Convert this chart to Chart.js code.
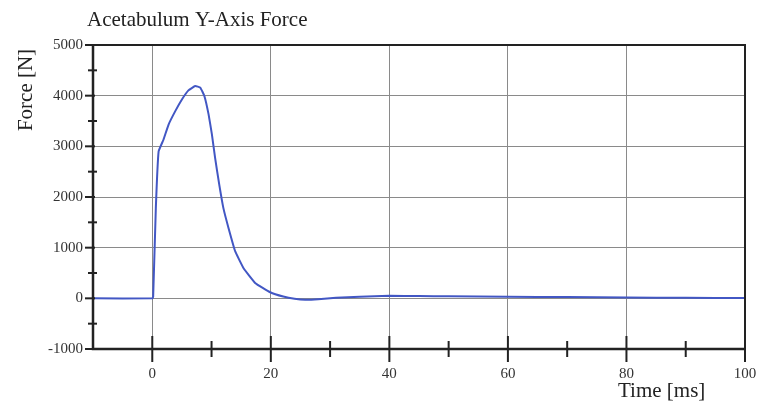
<!DOCTYPE html>
<html>
<head>
<meta charset="utf-8">
<title>Acetabulum Y-Axis Force</title>
<script src="https://cdn.jsdelivr.net/npm/chart.js@4.4.0/dist/chart.umd.min.js"></script>
<style>
    html, body { margin: 0; padding: 0; background: #fff; }
    #wrap { width: 758px; height: 404px; }
</style>
</head>
<body>
<div id="wrap"><canvas id="forceChart" width="758" height="404"></canvas></div>
<script>
// Data
const timeMs = [-10, 0, 0.15, 0.6, 1.07, 1.9, 2.75, 3.88, 5.0, 6.1, 7.25, 8.1, 8.8, 9.5, 10.06, 10.6, 11.3, 12.0, 12.87, 14.0, 15.4, 17.4, 19.9, 22.1, 24, 25.8, 28, 31, 35, 40, 45, 50, 60, 70, 80, 90, 100];
const forceN = [0, 0, 30, 1780, 2900, 3135, 3430, 3695, 3925, 4105, 4190, 4160, 3990, 3630, 3235, 2770, 2245, 1780, 1385, 925, 595, 300, 120, 35, -10, -30, -20, 10, 30, 50, 45, 40, 30, 25, 15, 10, 5];

const xTickValues = [0, 20, 40, 60, 80, 100];
const xMinorTicks = [10, 30, 50, 70, 90];
const yTickValues = [-1000, 0, 1000, 2000, 3000, 4000, 5000];
const yMinorTicks = [-500, 500, 1500, 2500, 3500, 4500];

const chartTitle = 'Acetabulum Y-Axis Force';
const xTitle = 'Time [ms]';
const yTitle = 'Force [N]';

const serif = '"Liberation Serif", "Times New Roman", serif';

// Frame, tick marks and titles
const axisDecor = {
    id: 'axisDecor',
    afterDraw(chart) {
        const { ctx, chartArea: a, scales: { x, y } } = chart;
        ctx.save();
        ctx.strokeStyle = '#222';

        ctx.lineWidth = 2;
        ctx.strokeRect(a.left, a.top, a.right - a.left, a.bottom - a.top);
        ctx.lineWidth = 2.5;
        ctx.beginPath();
        ctx.moveTo(a.left, a.top);
        ctx.lineTo(a.left, a.bottom);
        ctx.lineTo(a.right, a.bottom);
        ctx.stroke();

        const line = (x1, y1, x2, y2) => {
            ctx.beginPath();
            ctx.moveTo(x1, y1);
            ctx.lineTo(x2, y2);
            ctx.stroke();
        };

        ctx.lineWidth = 2;
        yTickValues.forEach(v => {
            const py = y.getPixelForValue(v);
            line(a.left - 8, py, a.left + 2, py);
        });
        yMinorTicks.forEach(v => {
            const py = y.getPixelForValue(v);
            line(a.left - 5, py, a.left + 4, py);
        });
        xTickValues.forEach(v => {
            const px = x.getPixelForValue(v);
            line(px, a.bottom - 13, px, a.bottom + 13);
        });
        xMinorTicks.forEach(v => {
            const px = x.getPixelForValue(v);
            line(px, a.bottom - 8, px, a.bottom + 8);
        });

        ctx.fillStyle = '#222';
        ctx.textBaseline = 'alphabetic';
        ctx.font = '21px ' + serif;
        ctx.textAlign = 'left';
        ctx.fillText(chartTitle, 87, 26);

        ctx.font = '21px ' + serif;
        ctx.fillText(xTitle, 618, 397);

        ctx.translate(32, 90);
        ctx.rotate(-Math.PI / 2);
        ctx.textAlign = 'center';
        ctx.fillText(yTitle, 0, 0);
        ctx.restore();
    }
};

const ctx = document.getElementById('forceChart').getContext('2d');
new Chart(ctx, {
    type: 'line',
    data: {
        datasets: [{
            data: timeMs.map((t, i) => ({ x: t, y: forceN[i] })),
            borderColor: '#4257c4',
            borderWidth: 2,
            pointRadius: 0,
            tension: 0.1,
            fill: false
        }]
    },
    options: {
        responsive: false,
        animation: false,
        devicePixelRatio: 1,
        layout: { padding: { top: 45, right: 13, left: 0, bottom: 0 } },
        plugins: {
            legend: { display: false },
            tooltip: { enabled: false },
            title: { display: false }
        },
        scales: {
            x: {
                type: 'linear',
                min: -10,
                max: 100,
                afterBuildTicks: s => { s.ticks = xTickValues.map(v => ({ value: v })); },
                afterFit: s => { s.height = 55; s.paddingLeft = 0; s.paddingRight = 0; },
                grid: { color: '#8a8a8a', lineWidth: 1, drawTicks: false },
                border: { display: false },
                ticks: {
                    padding: 16,
                    autoSkip: false,
                    maxRotation: 0,
                    color: '#333',
                    font: { family: serif, size: 15 },
                    callback: v => String(v)
                }
            },
            y: {
                type: 'linear',
                min: -1000,
                max: 5000,
                afterBuildTicks: s => { s.ticks = yTickValues.map(v => ({ value: v })); },
                afterFit: s => { s.width = 93; s.paddingTop = 0; s.paddingBottom = 0; },
                grid: { color: '#8a8a8a', lineWidth: 1, drawTicks: false },
                border: { display: false },
                ticks: {
                    padding: 10,
                    color: '#333',
                    font: { family: serif, size: 15 },
                    callback: v => String(v)
                }
            }
        }
    },
    plugins: [axisDecor]
});
</script>
</body>
</html>
